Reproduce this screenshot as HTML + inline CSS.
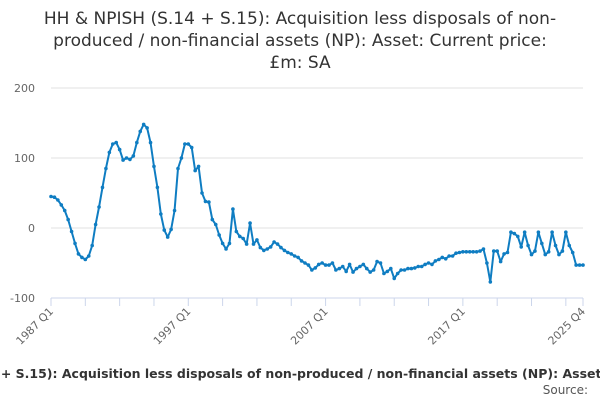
<!DOCTYPE html>
<html><head><meta charset="utf-8"><style>
body{margin:0;width:600px;height:400px;background:#fff;overflow:hidden;font-family:"Liberation Sans","DejaVu Sans",sans-serif;position:relative}
#title{position:absolute;left:0;top:8px;width:600px;text-align:center;font-size:17px;line-height:22px;color:#333;font-family:"DejaVu Sans",sans-serif}
#capwrap{position:absolute;left:0;top:362px;width:600px;height:20px;overflow:hidden}
#cap{position:absolute;left:-129px;top:4px;white-space:nowrap;font-weight:bold;font-size:12.5px;color:#333;font-family:"DejaVu Sans",sans-serif}
#src{position:absolute;right:12px;top:383px;font-size:12px;color:#555;font-family:"DejaVu Sans",sans-serif}
</style></head><body>
<div id="title">HH &amp; NPISH (S.14 + S.15): Acquisition less disposals of non-<br>produced / non-financial assets (NP): Asset: Current price:<br>£m: SA</div>
<svg id="chart" width="600" height="400" style="position:absolute;left:0;top:0"></svg>
<div id="capwrap"><div id="cap">HH &amp; NPISH (S.14 + S.15): Acquisition less disposals of non-produced / non-financial assets (NP): Asset: Current price: £m: SA</div></div>
<div id="src">Source:</div>
<script>
const yTicks=[200,100,0,-100];
const xLabels=["1987 Q1","1997 Q1","2007 Q1","2017 Q1","2025 Q4"];
const xLabelIdx=[0,40,80,120,155];
const values=[45,44,40,33,25,12,-5,-22,-37,-42,-45,-40,-25,5,30,58,85,108,120,122,112,97,100,98,103,122,138,148,143,122,88,58,20,-3,-13,-2,25,85,100,120,120,115,82,88,50,38,37,12,5,-10,-22,-30,-22,27,-5,-12,-15,-23,7,-23,-17,-28,-32,-30,-27,-20,-23,-28,-32,-35,-37,-40,-42,-47,-50,-53,-60,-57,-52,-50,-53,-53,-50,-60,-58,-55,-62,-52,-63,-58,-55,-52,-58,-63,-60,-48,-50,-65,-62,-58,-72,-65,-60,-60,-58,-58,-57,-55,-55,-52,-50,-52,-47,-45,-42,-44,-40,-40,-36,-35,-34,-34,-34,-34,-34,-33,-30,-50,-77,-33,-33,-48,-37,-35,-6,-8,-12,-27,-6,-25,-38,-33,-6,-22,-38,-34,-6,-25,-38,-33,-6,-25,-35,-53,-53,-53];
const svg=document.getElementById('chart');const NS='http://www.w3.org/2000/svg';
const x0=51,x1=583,yTop=88,yBot=298,vMax=200,vMin=-100;
const n=values.length;
const X=i=>x0+(x1-x0)*i/(n-1);
const Y=v=>yTop+(vMax-v)/(vMax-vMin)*(yBot-yTop);
function mk(t,a){const e=document.createElementNS(NS,t);for(const k in a)e.setAttribute(k,a[k]);svg.appendChild(e);return e;}
yTicks.forEach(v=>{
 if(v!==vMin){const g=mk('line',{x1:x0,x2:x1,y1:Y(v),y2:Y(v),stroke:'#e0e0e0','stroke-width':1});
 
 }
 const t=mk('text',{x:35,y:Y(v)+4,'text-anchor':'end','font-size':11,fill:'#666','font-family':'DejaVu Sans, sans-serif'});
 t.textContent=v;
 
 
});
const ax=mk('line',{x1:x0,x2:x1,y1:yBot,y2:yBot,stroke:'#ccd6eb','stroke-width':1});


const tickIdx=[];for(let i=0;i<n;i+=10)tickIdx.push(i);tickIdx.push(n-1);
tickIdx.forEach(i=>{const t=mk('line',{x1:X(i),x2:X(i),y1:yBot,y2:yBot+8,stroke:'#ccd6eb'});
 
 });
xLabels.forEach((l,k)=>{const x=X(xLabelIdx[k]);
 const t=mk('text',{x:x+3,y:yBot+14,'text-anchor':'end','font-size':11,fill:'#666','font-family':'DejaVu Sans, sans-serif',transform:`rotate(-45 ${x+3} ${yBot+14})`});
 t.textContent=l;
 
 });
const p=mk('polyline',{points:values.map((v,i)=>X(i)+','+Y(v)).join(' '),fill:'none',stroke:'#0f7dc2','stroke-width':2,'stroke-linejoin':'round'});


values.forEach((v,i)=>{const c=mk('circle',{cx:X(i),cy:Y(v),r:1.8,fill:'#0f7dc2'});
 
 });
</script>
</body></html>
